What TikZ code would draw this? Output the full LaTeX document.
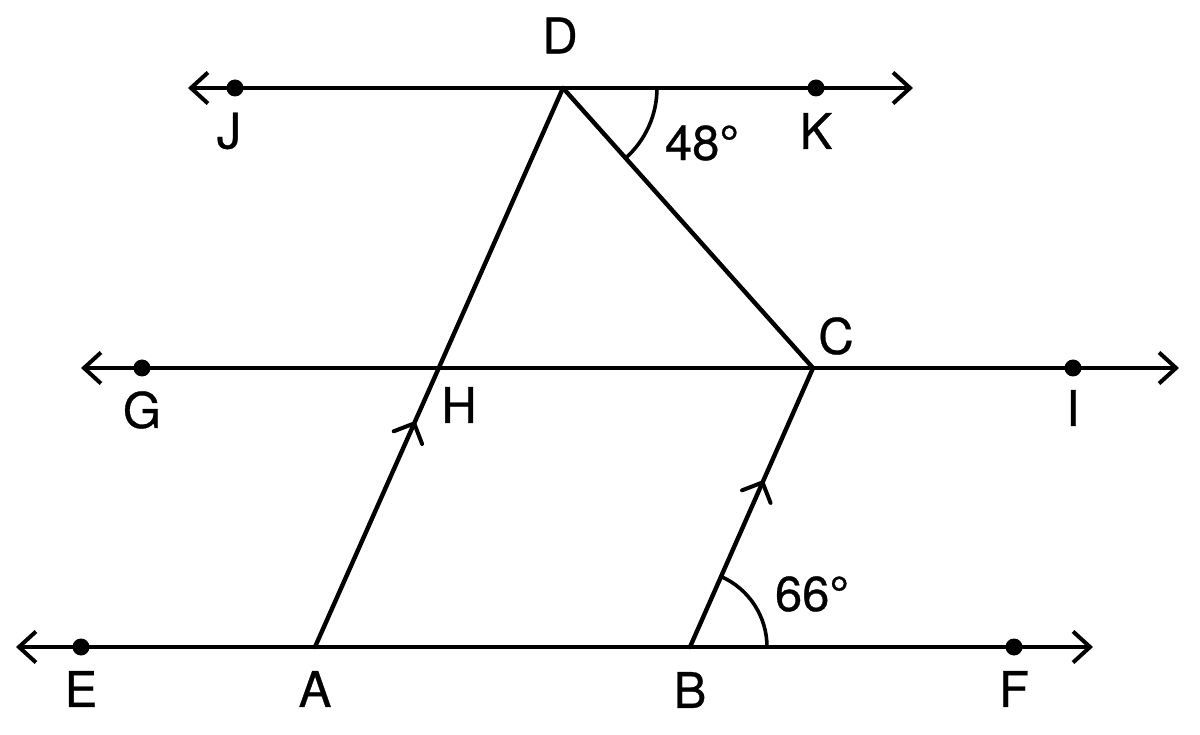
\documentclass[tikz,border=0pt]{standalone}
\usepackage{fontspec}
\setmainfont{TeX Gyre Heros}
\newfontfamily\lblfont[FakeBold=0.6]{TeX Gyre Heros}
\usetikzlibrary{arrows.meta,calc}
\begin{document}
\begin{tikzpicture}[x=1pt,y=1pt,
  geo/.style={line width=4.4pt, line cap=round, line join=round},
  ray/.style={geo, {Straight Barb[length=17pt,width=31pt,line width=4pt]}-{Straight Barb[length=17pt,width=31pt,line width=4pt]}},
  dotpt/.style={circle, fill=black, inner sep=0pt, minimum size=17pt},
  lbl/.style={inner sep=0pt, font=\lblfont\fontsize{49}{52}\selectfont},
  anglearc/.style={line width=3.6pt},
  chevron/.style={line width=4pt, line cap=round, line join=miter}
]
\useasboundingbox (0,0) rectangle (1200,-735);
% points
\coordinate (J) at (235,-88);
\coordinate (D) at (563,-88);
\coordinate (K) at (816,-88);
\coordinate (Jend) at (188,-88);
\coordinate (Kend) at (913,-88);
\coordinate (G) at (142,-368);
\coordinate (H) at (438.5,-368);
\coordinate (C) at (813,-368);
\coordinate (I) at (1073,-368);
\coordinate (Gend) at (81,-368);
\coordinate (Iend) at (1179,-368);
\coordinate (E) at (81,-647);
\coordinate (A) at (315,-647);
\coordinate (B) at (690,-647);
\coordinate (F) at (1014,-647);
\coordinate (Eend) at (16,-647);
\coordinate (Fend) at (1093,-647);
% lines
\draw[ray] (Jend) -- (Kend);
\draw[ray] (Gend) -- (Iend);
\draw[ray] (Eend) -- (Fend);
\draw[geo] (A) -- (D);
\draw[geo] (D) -- (C);
\draw[geo] (B) -- (C);
% parallel marks
\coordinate (T1) at ($(A)!0.40!(D)$);
\coordinate (T2) at ($(B)!0.59!(C)$);
\draw[chevron] ($(T1)!22pt!135:(D)$) -- (T1) -- ($(T1)!22pt!-135:(D)$);
\draw[chevron] ($(T2)!22pt!135:(C)$) -- (T2) -- ($(T2)!22pt!-135:(C)$);
% angle arcs
\draw[anglearc] ($(D)+(94,0)$) arc[start angle=0, end angle=-48.4, radius=94];
\draw[anglearc] ($(B)+(77,0)$) arc[start angle=0, end angle=66.2, radius=77];
% dots
\node[dotpt] (Jd) at (J) {};
\node[dotpt] (Kd) at (K) {};
\node[dotpt] (Gd) at (G) {};
\node[dotpt] (Id) at (I) {};
\node[dotpt] (Ed) at (E) {};
\node[dotpt] (Fd) at (F) {};
% labels
\node[lbl] (lD) at (560,-35.5) {D};
\node[lbl] (lJ) at (229,-131) {J};
\node[lbl] (lK) at (816,-131) {K};
\node[lbl] (l48) at (702,-143) {48°};
\node[lbl] (lC) at (836,-336) {C};
\node[lbl] (lG) at (142,-410) {G};
\node[lbl] (lH) at (459,-405) {H};
\node[lbl] (lI) at (1073,-408) {I};
\node[lbl] (l66) at (812,-594) {66°};
\node[lbl] (lE) at (81,-689) {E};
\node[lbl] (lA) at (315,-689) {A};
\node[lbl] (lB) at (690,-690) {B};
\node[lbl] (lF) at (1014,-689) {F};
\end{tikzpicture}
\end{document}
